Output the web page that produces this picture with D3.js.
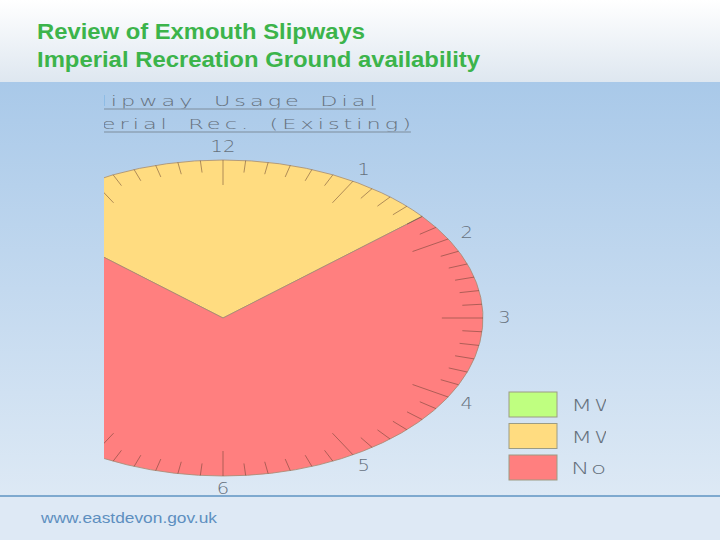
<!DOCTYPE html>
<html>
<head>
<meta charset="utf-8">
<script src="https://cdn.jsdelivr.net/npm/d3@7/dist/d3.min.js"></script>
<style>
  html, body { margin: 0; padding: 0; background: #fff; }
  svg { display: block; }
</style>
</head>
<body>
<div class="slide"></div>
<script>
'use strict';

// chart values
var categories = ['MWHS', 'MWNS', 'Not available'];
var minutes = [0, 200, 520];          // per 12 hour dial
var colors = ['#bfff80', '#ffdc80', '#ff7f7f'];
var hourLabels = ['12', '1', '2', '3', '4', '5', '6', '7', '8', '9', '10', '11'];
var dialStart = '10:20';
var titleLines = ['Slipway Usage Dial', 'Imperial Rec. (Existing)'];
var slideTitle = ['Review of Exmouth Slipways', 'Imperial Recreation Ground availability'];
var footer = 'www.eastdevon.gov.uk';

(function () {

    var width = 720;
    var height = 540;

    var svg = d3.select('.slide')
      .append('svg')
      .attr('width', width)
      .attr('height', height);

    var defs = svg.append('defs');

    var head = defs.append('linearGradient')
      .attr('id', 'headGrad')
      .attr('x1', 0).attr('y1', 0).attr('x2', 0).attr('y2', 1);
    head.append('stop').attr('offset', '0%').attr('stop-color', '#ffffff');
    head.append('stop').attr('offset', '100%').attr('stop-color', '#dee7f0');

    var band = defs.append('linearGradient')
      .attr('id', 'bandGrad')
      .attr('x1', 0).attr('y1', 0).attr('x2', 0).attr('y2', 1);
    band.append('stop').attr('offset', '0%').attr('stop-color', '#a9c9e9');
    band.append('stop').attr('offset', '100%').attr('stop-color', '#dde9f5');

    defs.append('clipPath')
      .attr('id', 'chartClip')
      .append('rect')
      .attr('x', 104).attr('y', 86)
      .attr('width', 502).attr('height', 409);

    // slide background
    svg.append('rect')
      .attr('width', width).attr('height', 82)
      .attr('fill', 'url(#headGrad)');
    svg.append('rect')
      .attr('y', 82).attr('width', width).attr('height', 414)
      .attr('fill', 'url(#bandGrad)');
    svg.append('rect')
      .attr('y', 496).attr('width', width).attr('height', 44)
      .attr('fill', '#dee9f5');
    svg.append('rect')
      .attr('y', 495).attr('width', width).attr('height', 2)
      .attr('fill', '#7ea9cf');

    var titleWidths = [328, 443];
    svg.selectAll('.slide-title')
      .data(slideTitle)
      .enter()
      .append('text')
      .attr('class', 'slide-title')
      .attr('x', 37)
      .attr('y', function (d, i) { return 39 + i * 28; })
      .attr('font-family', 'Liberation Sans, Arial, sans-serif')
      .attr('font-weight', 'bold')
      .attr('font-size', 21.5)
      .attr('textLength', function (d, i) { return titleWidths[i]; })
      .attr('lengthAdjust', 'spacingAndGlyphs')
      .attr('fill', '#3cb44b')
      .text(function (d) { return d; });

    svg.append('text')
      .attr('x', 41)
      .attr('y', 523)
      .attr('font-family', 'Liberation Sans, Arial, sans-serif')
      .attr('font-size', 14.5)
      .attr('textLength', 176)
      .attr('lengthAdjust', 'spacingAndGlyphs')
      .attr('fill', '#5d8fc0')
      .text(footer);

    // the dial picture, cropped on the left and right
    var chart = svg.append('g').attr('clip-path', 'url(#chartClip)');

    var cx = 223;
    var cy = 318;
    var radius = 158;
    var stretch = 260 / 158;
    var textGray = '#66717d';
    var lightFont = 'DejaVu Sans, Liberation Sans, sans-serif';

    // dial title, underlined
    titleLines.forEach(function (line, i) {
        var g = chart.append('g')
          .attr('transform', 'translate(231,' + (106 + i * 23) + ') scale(1.6,1)');
        var t = g.append('text')
          .attr('text-anchor', 'middle')
          .attr('font-family', lightFont)
          .attr('font-weight', 200)
          .attr('font-size', 14)
          .attr('letter-spacing', 2.5)
          .attr('word-spacing', 4)
          .attr('fill', textGray)
          .text(line);
        var box = t.node().getBBox();
        g.append('line')
          .attr('x1', box.x).attr('x2', box.x + box.width - 2.5)
          .attr('y1', 3).attr('y2', 3)
          .attr('stroke', '#8ea2b6')
          .attr('stroke-width', 1.5)
          .attr('vector-effect', 'non-scaling-stroke');
    });

    var parts = dialStart.split(':');
    var startAngle = (+parts[0] + parts[1] / 60) / 12 * 2 * Math.PI;

    var pie = d3.pie()
      .value(function (d) { return d; })
      .sort(null)
      .startAngle(startAngle)
      .endAngle(startAngle + 2 * Math.PI);

    var arc = d3.arc()
      .innerRadius(0)
      .outerRadius(radius);

    var dial = chart.append('g')
      .attr('transform', 'translate(' + cx + ',' + cy + ') scale(' + stretch + ',1)');

    dial.selectAll('path')
      .data(pie(minutes))
      .enter()
      .append('path')
      .attr('d', arc)
      .attr('fill', function (d, i) { return colors[i]; })
      .attr('stroke', '#a38b74')
      .attr('stroke-width', 0.8)
      .attr('vector-effect', 'non-scaling-stroke');

    // minute ticks every 10 minutes, long ones on the hour
    var tickScale = d3.scaleLinear().domain([0, 72]).range([0, 2 * Math.PI]);
    var ticks = d3.range(72);

    dial.selectAll('.tick')
      .data(ticks)
      .enter()
      .append('line')
      .attr('class', 'tick')
      .attr('x1', function (d) { return Math.sin(tickScale(d)) * radius; })
      .attr('y1', function (d) { return -Math.cos(tickScale(d)) * radius; })
      .attr('x2', function (d) {
          var r = radius - (d % 6 === 0 ? 25 : 12);
          return Math.sin(tickScale(d)) * r;
      })
      .attr('y2', function (d) {
          var r = radius - (d % 6 === 0 ? 25 : 12);
          return -Math.cos(tickScale(d)) * r;
      })
      .attr('stroke', 'rgba(95,60,45,0.5)')
      .attr('stroke-width', 1)
      .attr('vector-effect', 'non-scaling-stroke');

    var hourScale = d3.scaleLinear().domain([0, 12]).range([0, 2 * Math.PI]);
    var labelR = 171;

    chart.selectAll('.hour')
      .data(hourLabels)
      .enter()
      .append('text')
      .attr('class', 'hour')
      .attr('transform', function (d, i) {
          var a = hourScale(i);
          var x = cx + Math.sin(a) * labelR * stretch;
          var y = cy - Math.cos(a) * labelR;
          return 'translate(' + x + ',' + y + ') scale(1.3,1)';
      })
      .attr('text-anchor', 'middle')
      .attr('dy', '0.36em')
      .attr('font-family', lightFont)
      .attr('font-weight', 200)
      .attr('font-size', 15)
      .attr('fill', textGray)
      .text(function (d) { return d; });

    // legend
    var legend = chart.selectAll('.legend')
      .data(categories)
      .enter()
      .append('g')
      .attr('class', 'legend')
      .attr('transform', function (d, i) {
          return 'translate(509,' + (392 + i * 31.5) + ')';
      });

    legend.append('rect')
      .attr('width', 48)
      .attr('height', 25)
      .attr('fill', function (d, i) { return colors[i]; })
      .attr('stroke', '#9c9c84')
      .attr('stroke-width', 1);

    legend.append('text')
      .attr('transform', 'translate(62,19) scale(1.55,1)')
      .attr('font-family', lightFont)
      .attr('font-weight', 200)
      .attr('font-size', 16)
      .attr('letter-spacing', 1)
      .attr('fill', textGray)
      .text(function (d) { return d; });

})();
</script>
</body>
</html>
